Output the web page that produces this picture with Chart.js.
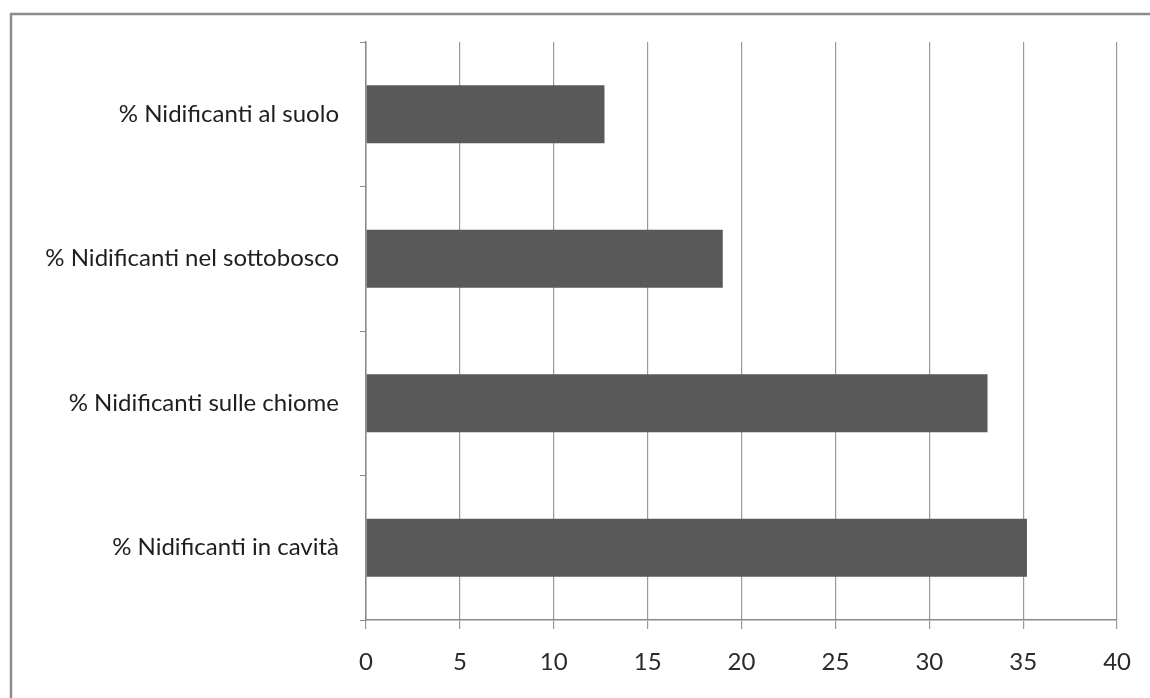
<!DOCTYPE html>
<html>
<head>
<meta charset="utf-8">
<script src="https://cdn.jsdelivr.net/npm/chart.js@4/dist/chart.umd.min.js"></script>
<style>
  html, body { margin: 0; padding: 0; background: #fff; }
  #wrap { width: 1150px; height: 698px; position: relative; }
</style>
</head>
<body>
<div id="wrap"><canvas id="myChart" width="1150" height="698"></canvas></div>
<script>
const categories = [
    '% Nidificanti al suolo',
    '% Nidificanti nel sottobosco',
    '% Nidificanti sulle chiome',
    '% Nidificanti in cavità'
];
const percentages = [12.7, 19.0, 33.1, 35.2];
const xTicks = [0, 5, 10, 15, 20, 25, 30, 35, 40];

const gridGray = '#9a9a9a';
const font = { family: 'Lato, "Open Sans", sans-serif', size: 24 };

// outer frame of the chart area (only left and top edges fall inside the window)
const frame = {
    id: 'frame',
    beforeDraw(chart) {
        const ctx = chart.ctx;
        ctx.save();
        ctx.strokeStyle = '#8c8c8c';
        ctx.lineWidth = 2.5;
        ctx.strokeRect(11, 14, 1300, 900);
        ctx.restore();
    }
};

const ctx = document.getElementById('myChart').getContext('2d');

const chart = new Chart(ctx, {
    type: 'bar',
    data: {
        labels: categories,
        datasets: [
            {
                data: percentages,
                backgroundColor: '#595959',
                barPercentage: 0.4,
                categoryPercentage: 1.0,
            },
        ],
    },
    options: {
        indexAxis: 'y',
        responsive: false,
        animation: false,
        layout: { padding: { top: 42, right: 30, left: 0, bottom: 0 } },
        plugins: {
            legend: { display: false },
            tooltip: { enabled: false },
        },
        scales: {
            x: {
                min: 0,
                max: 40,
                afterBuildTicks: (scale) => {
                    scale.ticks = xTicks.map((v) => ({ value: v }));
                },
                afterFit: (scale) => { scale.height = 78; },
                grid: {
                    color: gridGray,
                    lineWidth: 1.2,
                    tickLength: 9,
                },
                border: { color: '#8a8a8a', width: 1.5 },
                ticks: {
                    color: '#2a2a2a',
                    font: font,
                    padding: 19,
                },
            },
            y: {
                afterFit: (scale) => { scale.width = 366; },
                grid: {
                    offset: true,
                    drawOnChartArea: false,
                    color: '#8a8a8a',
                    tickLength: 6,
                },
                border: { color: '#8a8a8a', width: 1.5 },
                ticks: {
                    color: '#1e1e1e',
                    font: font,
                    padding: 21,
                },
            },
        },
    },
    plugins: [frame],
});
</script>
</body>
</html>
